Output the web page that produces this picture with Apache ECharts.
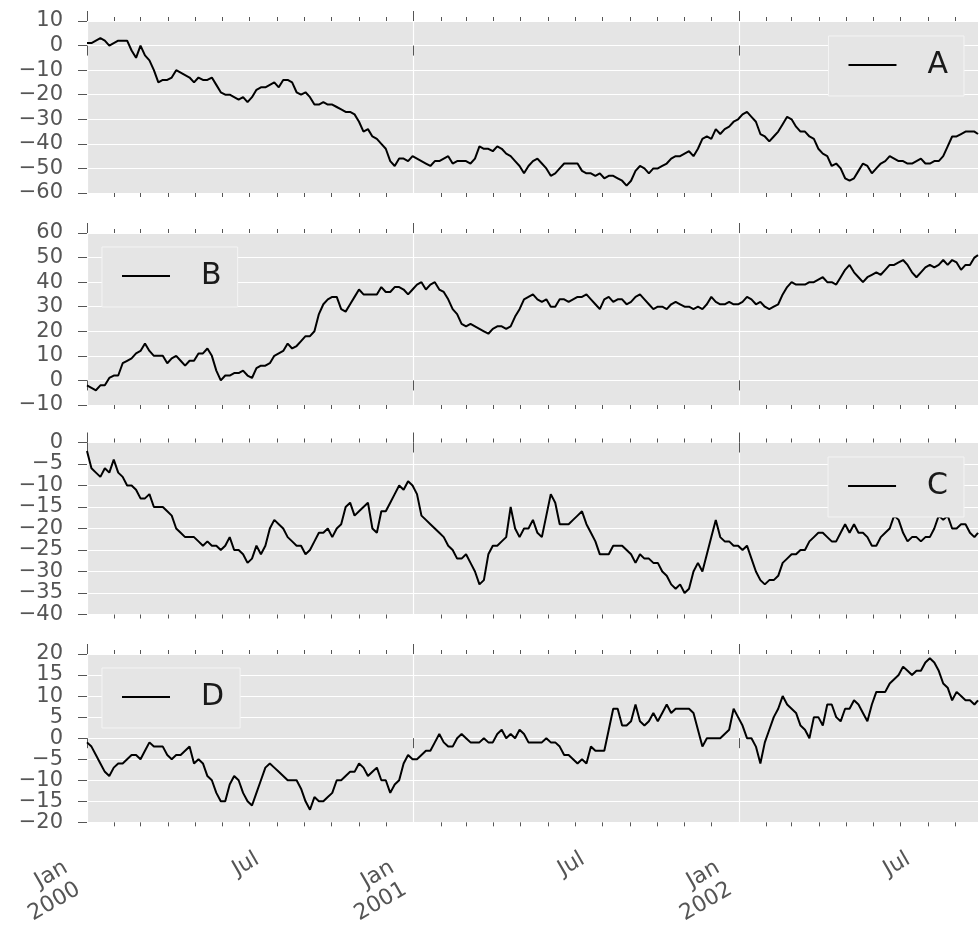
<!DOCTYPE html>
<html>
<head>
<meta charset="UTF-8" />
<title>Random walks A-D</title>
<style>
  html, body { margin: 0; padding: 0; background: #fff; }
  #chart { width: 979px; height: 928px; }
</style>
</head>
<body>
<div id="chart"></div>
<script src="https://cdn.jsdelivr.net/npm/echarts@6/dist/echarts.min.js"></script>
<script>
// values every 5 days from 2000-01-01, the last one is day 999
const seriesA = [
  1, 1, 2, 3, 2, 0, 1, 2, 2, 2,
  -2, -5, 0, -4, -6, -10, -15, -14, -14, -13,
  -10, -11, -12, -13, -15, -13, -14, -14, -13, -16,
  -19, -20, -20, -21, -22, -21, -23, -21, -18, -17,
  -17, -16, -15, -17, -14, -14, -15, -19, -20, -19,
  -21, -24, -24, -23, -24, -24, -25, -26, -27, -27,
  -28, -31, -35, -34, -37, -38, -40, -42, -47, -49,
  -46, -46, -47, -45, -46, -47, -48, -49, -47, -47,
  -46, -45, -48, -47, -47, -47, -48, -46, -41, -42,
  -42, -43, -41, -42, -44, -45, -47, -49, -52, -49,
  -47, -46, -48, -50, -53, -52, -50, -48, -48, -48,
  -48, -51, -52, -52, -53, -52, -54, -53, -53, -54,
  -55, -57, -55, -51, -49, -50, -52, -50, -50, -49,
  -48, -46, -45, -45, -44, -43, -45, -42, -38, -37,
  -38, -34, -36, -34, -33, -31, -30, -28, -27, -29,
  -31, -36, -37, -39, -37, -35, -32, -29, -30, -33,
  -35, -35, -37, -38, -42, -44, -45, -49, -48, -50,
  -54, -55, -54, -51, -48, -49, -52, -50, -48, -47,
  -45, -46, -47, -47, -48, -48, -47, -46, -48, -48,
  -47, -47, -45, -41, -37, -37, -36, -35, -35, -35,
  -36
];
const seriesB = [
  -2, -3, -4, -2, -2, 1, 2, 2, 7, 8,
  9, 11, 12, 15, 12, 10, 10, 10, 7, 9,
  10, 8, 6, 8, 8, 11, 11, 13, 10, 4,
  0, 2, 2, 3, 3, 4, 2, 1, 5, 6,
  6, 7, 10, 11, 12, 15, 13, 14, 16, 18,
  18, 20, 27, 31, 33, 34, 34, 29, 28, 31,
  34, 37, 35, 35, 35, 35, 38, 36, 36, 38,
  38, 37, 35, 37, 39, 40, 37, 39, 40, 37,
  36, 33, 29, 27, 23, 22, 23, 22, 21, 20,
  19, 21, 22, 22, 21, 22, 26, 29, 33, 34,
  35, 33, 32, 33, 30, 30, 33, 33, 32, 33,
  34, 34, 35, 33, 31, 29, 33, 34, 32, 33,
  33, 31, 32, 34, 35, 33, 31, 29, 30, 30,
  29, 31, 32, 31, 30, 30, 29, 30, 29, 31,
  34, 32, 31, 31, 32, 31, 31, 32, 34, 33,
  31, 32, 30, 29, 30, 31, 35, 38, 40, 39,
  39, 39, 40, 40, 41, 42, 40, 40, 39, 42,
  45, 47, 44, 42, 40, 42, 43, 44, 43, 45,
  47, 47, 48, 49, 47, 44, 42, 44, 46, 47,
  46, 47, 49, 47, 49, 48, 45, 47, 47, 50,
  51
];
const seriesC = [
  -2, -6, -7, -8, -6, -7, -4, -7, -8, -10,
  -10, -11, -13, -13, -12, -15, -15, -15, -16, -17,
  -20, -21, -22, -22, -22, -23, -24, -23, -24, -24,
  -25, -24, -22, -25, -25, -26, -28, -27, -24, -26,
  -24, -20, -18, -19, -20, -22, -23, -24, -24, -26,
  -25, -23, -21, -21, -20, -22, -20, -19, -15, -14,
  -17, -16, -15, -14, -20, -21, -16, -16, -14, -12,
  -10, -11, -9, -10, -12, -17, -18, -19, -20, -21,
  -22, -24, -25, -27, -27, -26, -28, -30, -33, -32,
  -26, -24, -24, -23, -22, -15, -20, -22, -20, -20,
  -18, -21, -22, -17, -12, -14, -19, -19, -19, -18,
  -17, -16, -19, -21, -23, -26, -26, -26, -24, -24,
  -24, -25, -26, -28, -26, -27, -27, -28, -28, -30,
  -31, -33, -34, -33, -35, -34, -30, -28, -30, -26,
  -22, -18, -22, -23, -23, -24, -24, -25, -24, -27,
  -30, -32, -33, -32, -32, -31, -28, -27, -26, -26,
  -25, -25, -23, -22, -21, -21, -22, -23, -23, -21,
  -19, -21, -19, -21, -21, -22, -24, -24, -22, -21,
  -20, -17, -18, -21, -23, -22, -22, -23, -22, -22,
  -20, -17, -18, -17, -20, -20, -19, -19, -21, -22,
  -21
];
const seriesD = [
  -1, -2, -4, -6, -8, -9, -7, -6, -6, -5,
  -4, -4, -5, -3, -1, -2, -2, -2, -4, -5,
  -4, -4, -3, -2, -6, -5, -6, -9, -10, -13,
  -15, -15, -11, -9, -10, -13, -15, -16, -13, -10,
  -7, -6, -7, -8, -9, -10, -10, -10, -12, -15,
  -17, -14, -15, -15, -14, -13, -10, -10, -9, -8,
  -8, -6, -7, -9, -8, -7, -10, -10, -13, -11,
  -10, -6, -4, -5, -5, -4, -3, -3, -1, 1,
  -1, -2, -2, 0, 1, 0, -1, -1, -1, 0,
  -1, -1, 1, 2, 0, 1, 0, 2, 1, -1,
  -1, -1, -1, 0, -1, -1, -2, -4, -4, -5,
  -6, -5, -6, -2, -3, -3, -3, 2, 7, 7,
  3, 3, 4, 8, 4, 3, 4, 6, 4, 6,
  8, 6, 7, 7, 7, 7, 6, 2, -2, 0,
  0, 0, 0, 1, 2, 7, 5, 3, 0, 0,
  -2, -6, -1, 2, 5, 7, 10, 8, 7, 6,
  3, 2, 0, 5, 5, 3, 8, 8, 5, 4,
  7, 7, 9, 8, 6, 4, 8, 11, 11, 11,
  13, 14, 15, 17, 16, 15, 16, 16, 18, 19,
  18, 16, 13, 12, 9, 11, 10, 9, 9, 8,
  9
];

const seriesNames = ['A', 'B', 'C', 'D'];
const seriesValues = [seriesA, seriesB, seriesC, seriesD];
const yMin = [-60, -10, -40, -20];
const yMax = [10, 60, 0, 20];
const yStep = [10, 10, 5, 5];
const monthLabels = { 1: 'Jan', 7: 'Jul' };

// one category per day, 1000 days
const days = [];
const t0 = Date.UTC(2000, 0, 1);
for (let i = 0; i < 1000; i++) {
  const d = new Date(t0 + i * 86400000);
  const m = d.getUTCMonth() + 1, dd = d.getUTCDate();
  days.push(d.getUTCFullYear() + '-' + (m < 10 ? '0' : '') + m + '-' + (dd < 10 ? '0' : '') + dd);
}
const sampleDay = seriesA.map(function (v, i) { return i < 200 ? i * 5 : 999; });

const month = function (s) { return +s.slice(5, 7); };
const firstDay = function (s) { return +s.slice(8, 10) === 1; };
const isJan = function (i, s) { return firstDay(s) && month(s) === 1; };
const isJul = function (i, s) { return firstDay(s) && month(s) === 7; };
const isMinor = function (i, s) { return firstDay(s) && month(s) !== 1; };

const font = 'DejaVu Sans';
const gray = '#555555';
const gridTop = [21, 233, 442.5, 654];
const legendPos = [
  { right: 15, top: 36 },
  { left: 102, top: 247 },
  { right: 15, top: 457 },
  { left: 102, top: 668 }
];

const grids = [], xAxes = [], yAxes = [], series = [], legends = [];

function xAxis(g, position, major) {
  const last = g === 3 && position === 'bottom';
  return {
    type: 'category', gridIndex: g, position: position, data: days, boundaryGap: false,
    axisLine: { show: false },
    axisTick: { show: true, interval: major ? isJan : isMinor, length: major ? 10 : 4,
      lineStyle: { color: gray, width: 1 } },
    axisLabel: last ? {
      show: true, interval: major ? isJan : isJul, rotate: 30,
      align: major ? 'right' : 'center', verticalAlign: 'middle',
      margin: major ? 46 : 40, padding: major ? [0, 17, 0, 0] : [0, 8, 0, 0],
      color: gray, fontSize: 22, lineHeight: 25, fontFamily: font,
      formatter: function (s) {
        return month(s) === 1 ? monthLabels[1] + '\n' + s.slice(0, 4) : monthLabels[7];
      }
    } : { show: false },
    splitLine: { show: major && position === 'bottom', interval: isJan,
      lineStyle: { color: '#ffffff', width: 1.2 } }
  };
}

for (let g = 0; g < 4; g++) {
  grids.push({ left: 87, right: 1, top: gridTop[g], height: 172, show: true,
    backgroundColor: '#e5e5e5', borderWidth: 0 });
  xAxes.push(xAxis(g, 'bottom', true), xAxis(g, 'bottom', false),
             xAxis(g, 'top', true), xAxis(g, 'top', false));
  yAxes.push({
    type: 'value', gridIndex: g, min: yMin[g], max: yMax[g], interval: yStep[g],
    axisLine: { show: false },
    axisTick: { show: true, length: 9, lineStyle: { color: gray, width: 1 } },
    axisLabel: { color: gray, fontSize: 21, lineHeight: 14, fontFamily: font, margin: 24,
      showMinLabel: true, showMaxLabel: true, hideOverlap: false, minMargin: 0,
      formatter: function (v) { return String(v).replace('-', '\u2212'); } },
    splitLine: { show: true, lineStyle: { color: '#ffffff', width: 1.2 } }
  });
  series.push({
    name: seriesNames[g], type: 'line', xAxisIndex: g * 4, yAxisIndex: g,
    data: seriesValues[g].map(function (v, i) { return [sampleDay[i], v]; }),
    showSymbol: false, symbol: 'none',
    lineStyle: { color: '#000000', width: 2 }, itemStyle: { color: '#000000' }
  });
  legends.push(Object.assign({
    data: [seriesNames[g]], selectedMode: false, icon: 'rect',
    itemWidth: 48, itemHeight: 2,
    backgroundColor: '#e5e5e5', borderColor: '#f4f4f4', borderWidth: 1,
    padding: [14, 16, 16, 20],
    textStyle: { fontSize: 30, color: '#1a1a1a', fontFamily: font, padding: [0, 0, 0, 26] }
  }, legendPos[g]));
}

const chart = echarts.init(document.getElementById('chart'));
chart.setOption({
  animation: false,
  backgroundColor: '#ffffff',
  textStyle: { fontFamily: font },
  grid: grids,
  xAxis: xAxes,
  yAxis: yAxes,
  legend: legends,
  series: series
});
window.addEventListener('resize', function () { chart.resize(); });
</script>
</body>
</html>
